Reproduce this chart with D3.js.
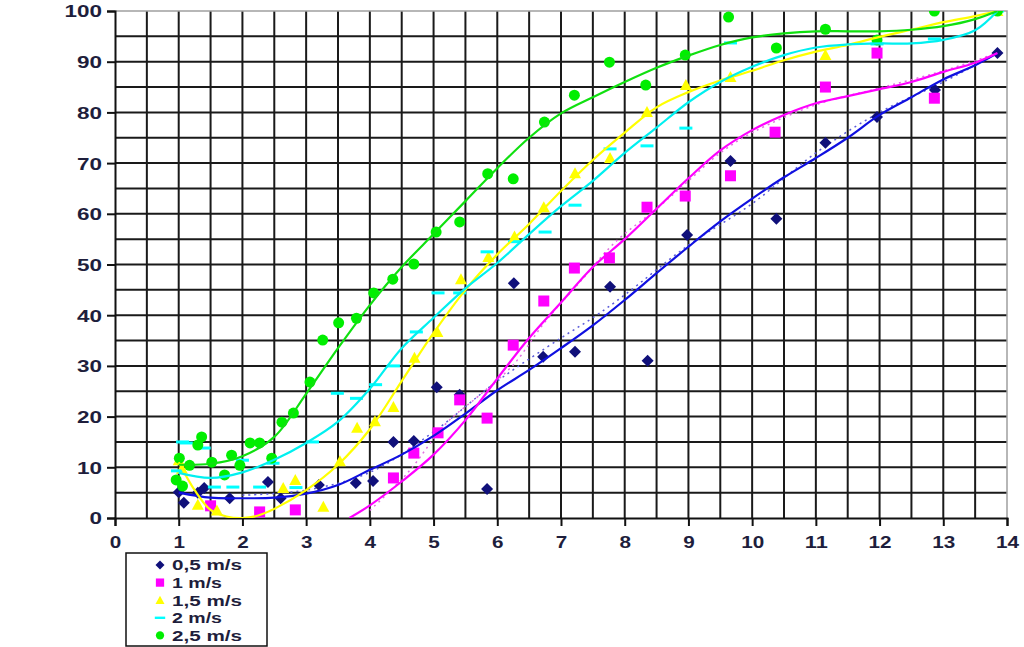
<!DOCTYPE html>
<html>
<head>
<meta charset="utf-8">
<script src="https://cdn.jsdelivr.net/npm/d3@7"></script>
<style>
  body { margin: 0; background: #fff; }
  svg { display: block; }
  text { font-family: "Liberation Sans", Arial, sans-serif; font-weight: bold; fill: #1e1e3c; }
</style>
</head>
<body>
<div id="chart"></div>
<script>
// series labels and colours
const seriesNames = ['0,5 m/s', '1 m/s', '1,5 m/s', '2 m/s', '2,5 m/s']
const markerColors = ['#10107a', '#ff00ff', '#ffff00', '#00ffff', '#00ee00']
const lineColors = ['#1010e0', '#ff00ff', '#ffff00', '#00f0f0', '#10e010']

// measured points [x, y]
const pts05 = [[1.0,5.1],[1.08,3.0],[1.3,5.0],[1.4,5.9],[1.8,3.9],[2.4,7.1],[2.6,3.9],[3.2,6.5],[3.78,6.9],[4.05,7.3],[4.37,15.0],[4.69,15.2],[5.05,25.8],[5.41,24.3],[5.84,5.7],[6.26,46.3],[6.72,31.8],[7.22,32.8],[7.77,45.6],[8.36,31.0],[8.98,55.8],[9.66,70.4],[10.38,59.0],[11.15,74.0],[11.96,79.1],[12.87,84.4],[13.85,91.7]]
const pts10 = [[1.5,2.4],[2.27,1.2],[2.83,1.6],[4.37,7.9],[4.69,12.8],[5.07,16.8],[5.41,23.3],[5.84,19.7],[6.25,34.1],[6.73,42.8],[7.21,49.3],[7.76,51.3],[8.35,61.3],[8.95,63.5],[9.66,67.5],[10.36,76.1],[11.15,85.0],[11.96,91.7],[12.86,82.8]]
const pts15 = [[1.0,11.4],[1.05,9.7],[1.3,2.6],[1.6,1.5],[2.64,5.9],[2.83,7.5],[3.27,2.2],[3.53,11.2],[3.8,17.8],[4.08,19.1],[4.37,21.9],[4.7,31.6],[5.06,36.7],[5.43,47.1],[5.86,51.5],[6.27,55.5],[6.73,61.3],[7.22,68.0],[7.77,71.0],[8.35,80.1],[8.96,85.4],[9.66,87.0],[11.15,91.3],[13.85,100]]
const pts20 = [[0.98,9.3],[1.06,15.0],[1.12,14.8],[1.4,13.8],[1.56,6.1],[1.85,6.1],[2.0,11.4],[2.27,6.1],[2.48,10.8],[2.84,6.0],[3.1,15.0],[3.49,24.6],[3.79,23.6],[4.09,26.3],[4.37,30.0],[4.73,36.7],[5.07,44.4],[5.41,44.4],[5.84,52.5],[6.27,54.5],[6.75,56.4],[7.22,61.7],[7.77,72.8],[8.35,73.4],[8.96,76.9],[9.66,93.7],[11.96,93.5],[12.86,94.5],[13.85,100]]
const pts25 = [[0.96,7.5],[1.01,11.8],[1.06,6.3],[1.17,10.4],[1.3,14.4],[1.36,16.0],[1.52,11.0],[1.72,8.5],[1.83,12.4],[1.96,10.4],[2.12,14.8],[2.27,14.8],[2.46,11.8],[2.62,18.9],[2.8,20.7],[3.06,26.8],[3.26,35.1],[3.51,38.5],[3.79,39.4],[4.06,44.4],[4.36,47.1],[4.69,50.1],[5.04,56.4],[5.41,58.4],[5.85,67.9],[6.25,66.9],[6.74,78.1],[7.21,83.4],[7.76,89.9],[8.33,85.4],[8.95,91.3],[9.63,98.8],[10.38,92.7],[11.15,96.4],[11.96,94.3],[12.86,100],[13.85,100]]

// fitted trend curves [x, y]
const fit05 = [[1,5],[1.5,4],[2,3.9],[2.5,4],[3,4.8],[3.5,6.5],[4,9.5],[4.5,12.5],[5,16.2],[5.5,20.6],[6,25.2],[6.5,29.2],[7,33.5],[7.5,38],[8,43],[8.5,48.3],[9,53.5],[9.5,58.5],[10,63],[10.5,67.2],[11,71],[11.5,75],[12,79.5],[12.5,83],[13,86.5],[13.5,89.3],[13.85,91.7]]
const fit10 = [[3.68,0],[4,2.5],[4.5,7.2],[5,12.5],[5.5,19.3],[6,27.5],[6.5,35.5],[7,42.5],[7.5,49.5],[8,55],[8.5,61],[9,67],[9.5,72.5],[10,76.5],[10.5,79.5],[11,81.8],[11.5,83.2],[12,84.6],[12.5,86],[13,88],[13.5,89.8],[13.85,91.7]]
const fit15 = [[1,11],[1.25,5.5],[1.5,1.6],[1.75,0.3],[2,0],[2.25,0.5],[2.5,1.8],[3,5.5],[3.5,10.5],[4,17.5],[4.5,27],[5,36.5],[5.5,45],[6,52],[6.5,58],[7,64.5],[7.5,70.6],[8,76],[8.5,81],[9,84],[9.5,86.3],[10,88.2],[10.5,90.3],[11,92],[11.5,93.3],[12,94.9],[12.5,96.3],[13,97.8],[13.5,99],[13.85,100]]
const fit20 = [[1,8.9],[1.5,7.9],[2,9],[2.5,11.5],[3,14.8],[3.5,19],[4,25.5],[4.5,33.5],[5,39.5],[5.5,45.3],[6,50.3],[6.5,56],[7,61.5],[7.5,66.5],[8,72],[8.5,77],[9,82],[9.5,86],[10,89],[10.5,91.3],[11,92.8],[11.5,93.4],[12,93.6],[12.5,93.6],[13,94.3],[13.5,96.2],[13.85,100]]
const fit25 = [[1,10.5],[1.5,10.7],[2,12.2],[2.5,16],[3,24.5],[3.5,33.5],[4,42],[4.5,49.5],[5,56],[5.5,62.5],[6,69],[6.5,75],[7,79.8],[7.5,83],[8,86],[8.5,88.8],[9,91.2],[9.5,93.3],[10,94.8],[10.5,95.6],[11,96],[11.5,96],[12,96],[12.5,96.3],[13,97],[13.5,98.4],[13.85,100]]

// faint dotted trend lines
const dot05 = [[2,4.5],[3,5.5],[4,9],[5,17],[6,27],[7,35.5],[7.5,39.5],[8,44],[9,53.8],[10,62],[11,72],[12,80],[13,86],[13.85,91.7]]
const dot10 = [[4,1.5],[4.6,9],[5.2,18.7],[5.7,24],[6.25,30.2],[6.75,38.7],[7.35,47.3],[7.85,54.4],[8.5,61],[9,66.5],[9.5,72],[10,76],[11,81.5],[12,84.8],[13,88.2],[13.85,91.7]]

const xTicks = d3.range(0, 15, 1)
const yTicks = d3.range(0, 101, 10)

const width = 1024, height = 647
const x = d3.scaleLinear().domain([0, 14]).range([115, 1007])
const y = d3.scaleLinear().domain([0, 100]).range([518, 11])

const svg = d3.select('#chart').append('svg')
    .attr('width', width)
    .attr('height', height)

svg.append('defs').append('clipPath').attr('id', 'plotclip')
    .append('rect')
    .attr('x', x(0)).attr('y', y(100))
    .attr('width', x(14) - x(0)).attr('height', y(0) - y(100))

// grid
const grid = svg.append('g').attr('class', 'grid')
grid.selectAll('.vline')
    .data(d3.range(0.5, 14, 0.5))
    .enter().append('line')
    .attr('x1', d => x(d)).attr('x2', d => x(d))
    .attr('y1', y(100)).attr('y2', y(0))
    .attr('stroke', '#1a1a1a').attr('stroke-width', 2)
grid.selectAll('.hline')
    .data(d3.range(5, 100, 5))
    .enter().append('line')
    .attr('x1', x(0)).attr('x2', x(14))
    .attr('y1', d => y(d)).attr('y2', d => y(d))
    .attr('stroke', '#1a1a1a').attr('stroke-width', 2)
// light border top and right
grid.append('path')
    .attr('d', `M${x(0)},${y(100)}H${x(14)}V${y(0)}`)
    .attr('fill', 'none').attr('stroke', '#a0a0a0').attr('stroke-width', 1.5)

// axes
const xAxis = svg.append('g')
    .attr('transform', `translate(0,${y(0)})`)
    .call(d3.axisBottom(x).tickValues(xTicks).tickSize(8).tickPadding(10).tickFormat(d3.format('d')))
const yAxis = svg.append('g')
    .attr('transform', `translate(${x(0)},0)`)
    .call(d3.axisLeft(y).tickValues(yTicks).tickSize(8).tickPadding(5).tickFormat(d3.format('d')))
for (const ax of [xAxis, yAxis]) {
    ax.select('.domain').attr('stroke', '#111').attr('stroke-width', 2)
    ax.selectAll('.tick line').attr('stroke', '#111').attr('stroke-width', 2)
    ax.selectAll('text').attr('font-size', 16.5).attr('fill', '#1e1e3c')
        .attr('font-family', '"Liberation Sans", Arial, sans-serif').attr('font-weight', 'bold')
        .attr('lengthAdjust', 'spacingAndGlyphs')
}
// the original labels are drawn wide
yAxis.selectAll('text').attr('dy', '0.36em').attr('textLength', d => String(d).length * 12.5)
xAxis.selectAll('text').attr('textLength', d => String(d).length * 11.5)

// lines
const line = d3.line()
    .x(d => x(d[0]))
    .y(d => y(d[1]))
    .curve(d3.curveCatmullRom.alpha(0.5))

const plot = svg.append('g').attr('clip-path', 'url(#plotclip)')

const dotted = [[dot05, '#5a5ad8'], [dot10, '#e070e0']]
plot.selectAll('.dotline')
    .data(dotted)
    .enter().append('path')
    .attr('d', d => line(d[0]))
    .attr('fill', 'none')
    .attr('stroke', d => d[1])
    .attr('stroke-width', 1.5)
    .attr('stroke-dasharray', '2,4')

// markers
const diamond = 'M0,-6L6,0L0,6L-6,0Z'
const marker = [
    g => g.append('path').attr('d', diamond),
    g => g.append('rect').attr('x', -5.5).attr('y', -5.5).attr('width', 11).attr('height', 11),
    g => g.append('path').attr('d', 'M0,-6L6,5L-6,5Z'),
    g => g.append('rect').attr('x', -6.5).attr('y', -1.5).attr('width', 13).attr('height', 3),
    g => g.append('circle').attr('r', 5.5)
]

const allPoints = [pts05, pts10, pts15, pts20, pts25]
const allFits = [fit05, fit10, fit15, fit20, fit25]

allPoints.forEach((pts, i) => {
    const gs = plot.append('g').attr('fill', markerColors[i])
        .selectAll('g')
        .data(pts)
        .enter().append('g')
        .attr('transform', d => `translate(${x(d[0])},${y(d[1])})`)
    marker[i](gs)
})

plot.selectAll('.fit')
    .data(allFits)
    .enter().append('path')
    .attr('class', 'fit')
    .attr('d', d => line(d))
    .attr('fill', 'none')
    .attr('stroke', (d, i) => lineColors[i])
    .attr('stroke-width', 2.2)

// legend
const legend = svg.append('g').attr('class', 'legend')
legend.append('rect')
    .attr('x', 126).attr('y', 553).attr('width', 141).attr('height', 93)
    .attr('fill', '#fff').attr('stroke', '#111').attr('stroke-width', 1.5)
const items = legend.selectAll('.item')
    .data(seriesNames)
    .enter().append('g')
    .attr('transform', (d, i) => `translate(160,${565 + i * 17.6})`)
items.each(function (d, i) {
    const g = d3.select(this).append('g').attr('fill', markerColors[i])
        .attr('transform', i === 3 ? 'scale(0.8)' : 'scale(0.75)')
    marker[i](g)
})
items.append('text')
    .attr('x', 12).attr('dy', '0.36em')
    .attr('font-size', 15)
    .attr('lengthAdjust', 'spacingAndGlyphs')
    .attr('textLength', d => d.length * 10)
    .text(d => d)
</script>
</body>
</html>
